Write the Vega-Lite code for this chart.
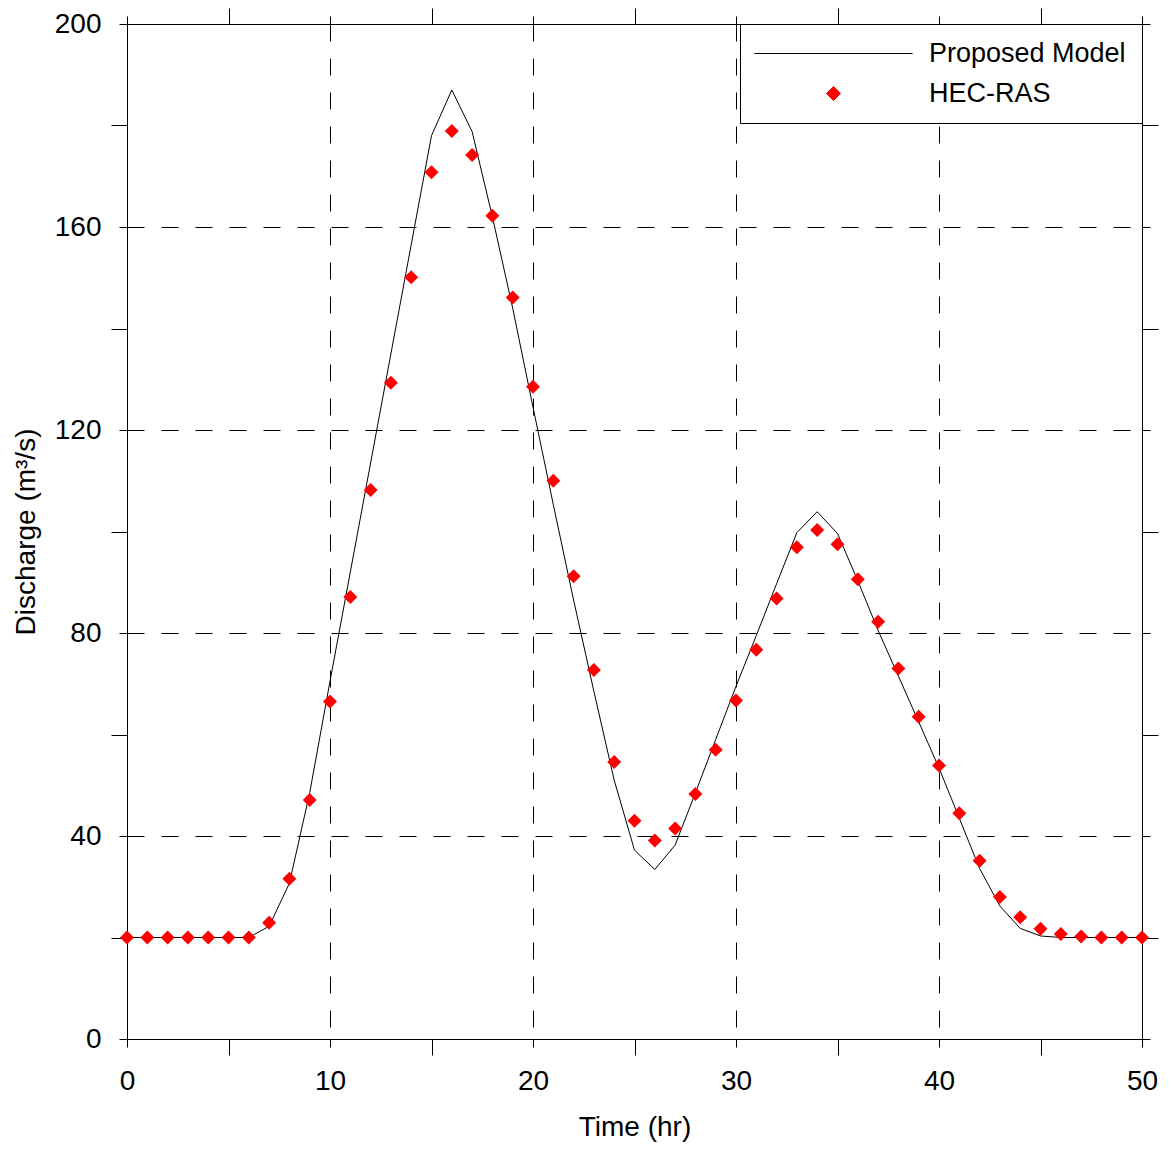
{
  "$schema": "https://vega.github.io/schema/vega-lite/v6.json",
  "width": 1015,
  "height": 1015,
  "autosize": {"type": "none"},
  "padding": {"left": 127, "top": 24, "right": 29, "bottom": 110},
  "background": "white",
  "datasets": {
    "model": [
      {"t":0,"q":20},{"t":1,"q":20},{"t":2,"q":20},{"t":3,"q":20},{"t":4,"q":20},{"t":5,"q":20},{"t":6,"q":20},
      {"t":7,"q":22.2},{"t":8,"q":30.7},{"t":9,"q":48.5},{"t":10,"q":70.5},{"t":11,"q":92},{"t":12,"q":113.5},
      {"t":13,"q":135},{"t":14,"q":156.5},{"t":15,"q":178},{"t":16,"q":187},{"t":17,"q":178.8},{"t":18,"q":162},
      {"t":19,"q":144},{"t":20,"q":124.5},{"t":21,"q":105.3},{"t":22,"q":86.5},{"t":23,"q":68.5},{"t":24,"q":51},
      {"t":25,"q":37.2},{"t":26,"q":33.4},{"t":27,"q":38.2},{"t":28,"q":48.5},{"t":29,"q":59},{"t":30,"q":69.5},
      {"t":31,"q":79.5},{"t":32,"q":89.7},{"t":33,"q":99.8},{"t":34,"q":103.9},{"t":35,"q":99.6},{"t":36,"q":90.3},
      {"t":37,"q":80.5},{"t":38,"q":71.5},{"t":39,"q":62.5},{"t":40,"q":53.4},{"t":41,"q":43.5},{"t":42,"q":33.6},
      {"t":43,"q":26.2},{"t":44,"q":21.8},{"t":45,"q":20.3},{"t":46,"q":20},{"t":47,"q":20},{"t":48,"q":20},
      {"t":49,"q":20},{"t":50,"q":20}
    ],
    "hec": [
      {"t":0,"q":20},{"t":1,"q":20},{"t":2,"q":20},{"t":3,"q":20},{"t":4,"q":20},{"t":5,"q":20},{"t":6,"q":20},
      {"t":7,"q":22.9},{"t":8,"q":31.6},{"t":9,"q":47.1},{"t":10,"q":66.5},{"t":11,"q":87.1},{"t":12,"q":108.2},
      {"t":13,"q":129.3},{"t":14,"q":150.1},{"t":15,"q":170.8},{"t":16,"q":178.9},{"t":17,"q":174.2},{"t":18,"q":162.2},
      {"t":19,"q":146.1},{"t":20,"q":128.5},{"t":21,"q":110.0},{"t":22,"q":91.2},{"t":23,"q":72.7},{"t":24,"q":54.6},
      {"t":25,"q":43.0},{"t":26,"q":39.1},{"t":27,"q":41.5},{"t":28,"q":48.3},{"t":29,"q":57.0},{"t":30,"q":66.7},
      {"t":31,"q":76.7},{"t":32,"q":86.8},{"t":33,"q":96.9},{"t":34,"q":100.3},{"t":35,"q":97.5},{"t":36,"q":90.6},
      {"t":37,"q":82.2},{"t":38,"q":73.0},{"t":39,"q":63.5},{"t":40,"q":53.9},{"t":41,"q":44.5},{"t":42,"q":35.1},
      {"t":43,"q":28.0},{"t":44,"q":24.0},{"t":45,"q":21.7},{"t":46,"q":20.7},{"t":47,"q":20.2},{"t":48,"q":20},
      {"t":49,"q":20},{"t":50,"q":20}
    ],
    "legendrows": [
      {"t":-10,"q":-10,"series":"Proposed Model"},
      {"t":-10,"q":-10,"series":"HEC-RAS"}
    ]
  },
  "resolve": {"axis": {"x": "independent", "y": "independent"}},
  "layer": [
    {
      "data": {"name": "legendrows"},
      "mark": {"type": "point", "filled": true, "opacity": 1, "size": 196, "strokeWidth": 1, "clip": true},
      "encoding": {
        "x": {"field": "t", "type": "quantitative", "scale": {"domain": [0, 50], "nice": false},
              "axis": {"values": [10, 20, 30, 40], "grid": true, "gridDash": [17, 17], "gridColor": "black", "gridOpacity": 1, "gridWidth": 1,
                       "ticks": false, "labels": false, "domain": false, "title": null}},
        "y": {"field": "q", "type": "quantitative", "scale": {"domain": [0, 200], "nice": false},
              "axis": {"values": [40, 80, 120, 160], "grid": true, "gridDash": [17, 17], "gridColor": "black", "gridOpacity": 1, "gridWidth": 1,
                       "ticks": false, "labels": false, "domain": false, "title": null}},
        "shape": {"field": "series", "type": "nominal",
                  "scale": {"domain": ["Proposed Model", "HEC-RAS"], "range": ["M-11.3,0H11.3", "diamond"]},
                  "legend": {"title": null}},
        "fill": {"field": "series", "type": "nominal",
                 "scale": {"domain": ["Proposed Model", "HEC-RAS"], "range": ["black", "red"]},
                 "legend": {"title": null}},
        "stroke": {"field": "series", "type": "nominal",
                   "scale": {"domain": ["Proposed Model", "HEC-RAS"], "range": ["black", "red"]},
                   "legend": {"title": null}}
      }
    },
    {
      "data": {"name": "model"},
      "mark": {"type": "line", "opacity": 0},
      "encoding": {
        "x": {"field": "t", "type": "quantitative",
              "axis": {"orient": "bottom", "values": [5, 15, 25, 35, 45], "tickSize": 16, "labels": false, "domain": false, "title": null}},
        "y": {"field": "q", "type": "quantitative",
              "axis": {"orient": "left", "values": [20, 60, 100, 140, 180], "tickSize": 16, "labels": false, "domain": false, "title": null}}
      }
    },
    {
      "data": {"name": "model"},
      "mark": {"type": "line", "opacity": 0},
      "encoding": {
        "x": {"field": "t", "type": "quantitative",
              "axis": {"orient": "top", "values": [5, 15, 25, 35, 45], "tickSize": 16, "labels": false, "domain": false, "title": null}},
        "y": {"field": "q", "type": "quantitative",
              "axis": {"orient": "right", "values": [20, 60, 100, 140, 180], "tickSize": 16, "labels": false, "domain": false, "title": null}}
      }
    },
    {
      "data": {"name": "model"},
      "mark": {"type": "line", "color": "black", "strokeWidth": 1},
      "encoding": {
        "x": {"field": "t", "type": "quantitative",
              "axis": {"orient": "bottom", "values": [0, 10, 20, 30, 40, 50], "tickSize": 8, "labelPadding": 20,
                       "title": "Time (hr)", "titlePadding": 18}},
        "y": {"field": "q", "type": "quantitative",
              "axis": {"orient": "left", "values": [0, 40, 80, 120, 160, 200], "tickSize": 8, "labelPadding": 18,
                       "title": "Discharge (m³/s)", "titlePadding": 14}}
      }
    },
    {
      "data": {"name": "hec"},
      "mark": {"type": "point", "shape": "diamond", "filled": true, "color": "red", "opacity": 1, "size": 196},
      "encoding": {
        "x": {"field": "t", "type": "quantitative",
              "axis": {"orient": "top", "values": [0, 10, 20, 30, 40, 50], "tickSize": 8, "labels": false, "title": null}},
        "y": {"field": "q", "type": "quantitative",
              "axis": {"orient": "right", "values": [0, 40, 80, 120, 160, 200], "tickSize": 8, "labels": false, "title": null}}
      }
    }
  ],
  "config": {
    "view": {"stroke": null},
    "axis": {
      "labelFont": "Liberation Sans", "titleFont": "Liberation Sans",
      "labelFontSize": 28, "titleFontSize": 28, "titleFontWeight": "normal",
      "domainColor": "black", "tickColor": "black", "labelColor": "black", "titleColor": "black",
      "domainWidth": 1, "tickWidth": 1,
      "grid": false, "labelFlush": false, "labelOverlap": false
    },
    "legend": {
      "orient": "top-right", "offset": 0, "padding": 16,
      "strokeColor": "black", "fillColor": "white",
      "symbolSize": 196, "symbolStrokeWidth": 1,
      "labelFont": "Liberation Sans", "labelFontSize": 27, "labelColor": "black", "labelLimit": 400,
      "symbolOffset": 64, "labelOffset": 82, "rowPadding": 12
    }
  }
}
